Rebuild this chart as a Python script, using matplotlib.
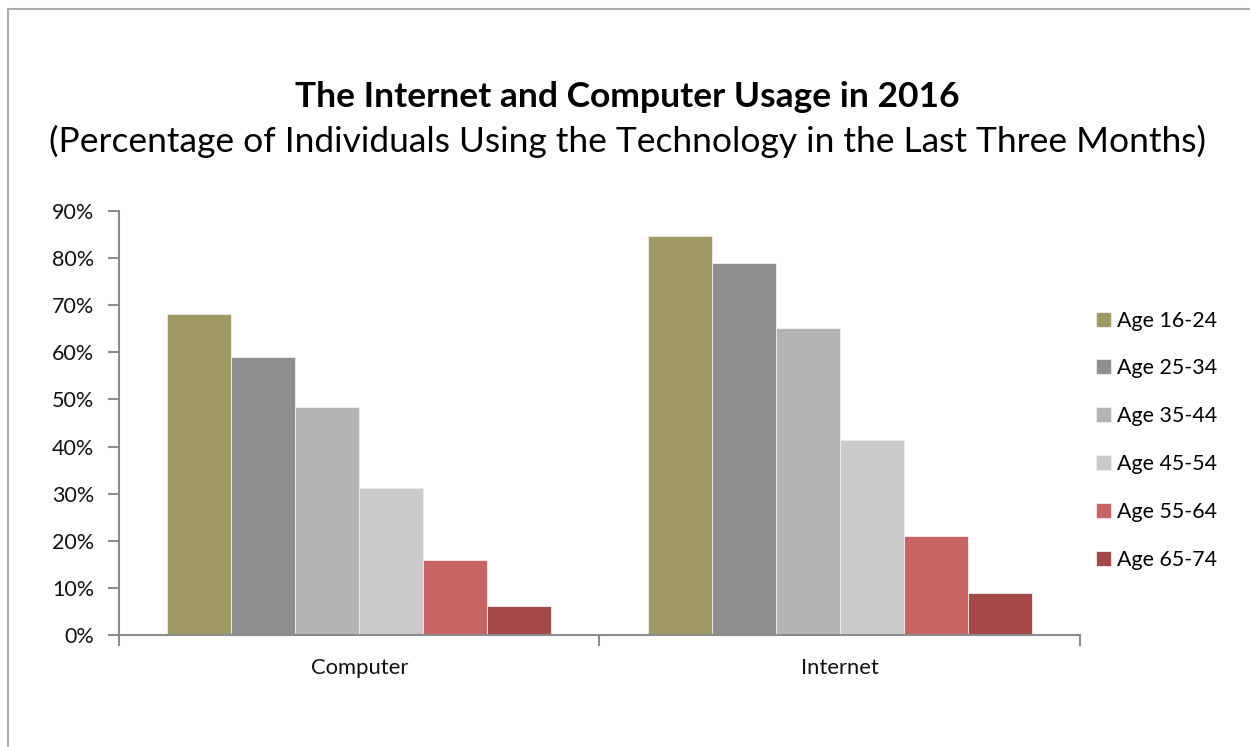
import matplotlib
matplotlib.use("Agg")
import matplotlib.pyplot as plt
from matplotlib.patches import Rectangle
from matplotlib.ticker import FuncFormatter
import numpy as np

plt.rcParams['font.family'] = ['Lato', 'DejaVu Sans']

categories = ["Computer", "Internet"]
age_groups = ["Age 16-24", "Age 25-34", "Age 35-44", "Age 45-54", "Age 55-64", "Age 65-74"]
computer = [68.2, 59.1, 48.4, 31.1, 15.9, 6.2]
internet = [84.6, 79.0, 65.2, 41.3, 21.0, 8.9]
colors = ["#A09966", "#8F8F8F", "#B4B4B4", "#CACACA", "#C86462", "#A44848"]

W, H = 1250, 747
fig = plt.figure(figsize=(W / 100, H / 100), dpi=100)
fig.patch.set_facecolor("white")

# outer frame (only top and left edges visible)
fig.patches.append(Rectangle((8 / W, -0.1), 1.2, (H - 9) / H + 0.1, transform=fig.transFigure,
                             fill=False, edgecolor="#ABABAB", linewidth=1.5))

ax_left, ax_right = 119 / W, 1080 / W
ax_bottom, ax_top = (H - 635) / H, (H - 211) / H
ax = fig.add_axes([ax_left, ax_bottom, ax_right - ax_left, ax_top - ax_bottom])

values = np.array([computer, internet])  # shape (2, 6)
n = len(age_groups)
group_w = 0.8
bw = group_w / n
x = np.arange(len(categories))
for i, (lab, col) in enumerate(zip(age_groups, colors)):
    ax.bar(x - group_w / 2 + bw * (i + 0.5), values[:, i], width=bw, color=col,
           edgecolor="#F0F0F0", linewidth=0.6, label=lab, zorder=2)

ax.set_xlim(-0.5, len(categories) - 0.5)
ax.set_ylim(0, 90)
ax.set_yticks(np.arange(0, 91, 10))
ax.yaxis.set_major_formatter(FuncFormatter(lambda v, p: f"{int(round(v))}%"))
ax.set_xticks([-0.5, 0.5, 1.5])
ax.set_xticklabels([])
for xi, c in zip(x, categories):
    ax.text(xi, -0.078, c, transform=ax.get_xaxis_transform(), ha="center", va="center",
            fontsize=15.8, color="#111111")

for s in ["top", "right"]:
    ax.spines[s].set_visible(False)
for s in ["left", "bottom"]:
    ax.spines[s].set_color("#8C8C8C")
    ax.spines[s].set_linewidth(1.5)
ax.tick_params(axis="y", direction="out", length=8, width=1.5, color="#8C8C8C",
               labelsize=15.5, labelcolor="#111111", pad=10)
ax.tick_params(axis="x", direction="out", length=8, width=1.5, color="#8C8C8C")

fig.text(627 / W, 1 - 97 / H, "The Internet and Computer Usage in 2016", ha="center", va="center",
         fontsize=25.5, fontweight="bold", color="#000000")
fig.text(627 / W, 1 - 141 / H,
         "(Percentage of Individuals Using the Technology in the Last Three Months)",
         ha="center", va="center", fontsize=25.5, color="#000000")

leg = ax.legend(loc="upper left", bbox_to_anchor=(1087 / W, 1 - 302 / H),
                bbox_transform=fig.transFigure, frameon=False, fontsize=15.4,
                handlelength=0.7, handleheight=0.7, handletextpad=0.28, labelspacing=1.3,
                borderaxespad=0)

fig.savefig("out.png", dpi=100, facecolor="white")
